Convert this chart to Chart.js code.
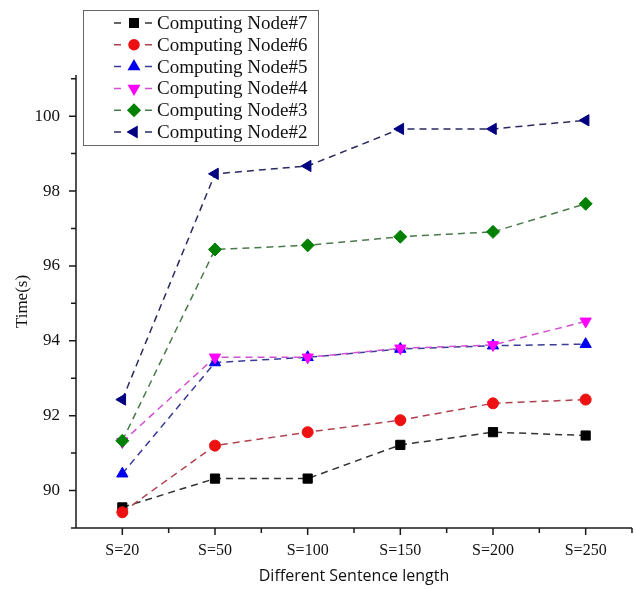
<!DOCTYPE html>
<html>
<head>
<meta charset="utf-8">
<script src="https://cdn.jsdelivr.net/npm/chart.js@4.4.1/dist/chart.umd.min.js"></script>
<style>
html, body { margin: 0; padding: 0; background: #fff; overflow: hidden; }
</style>
</head>
<body>
<canvas id="myChart" width="635" height="589"></canvas>
<script>
// Werte
const categories = ["S=20", "S=50", "S=100", "S=150", "S=200", "S=250"];
const node7 = [89.55, 90.32, 90.32, 91.22, 91.56, 91.47];
const node6 = [89.42, 91.20, 91.56, 91.88, 92.33, 92.43];
const node5 = [90.45, 93.42, 93.56, 93.78, 93.87, 93.91];
const node4 = [91.30, 93.56, 93.56, 93.80, 93.89, 94.52];
const node3 = [91.33, 96.44, 96.55, 96.78, 96.91, 97.66];
const node2 = [92.43, 98.46, 98.67, 99.66, 99.66, 99.89];
const yTicks = [89, 90, 91, 92, 93, 94, 95, 96, 97, 98, 99, 100, 101];
const yTickLabels = [90, 92, 94, 96, 98, 100];

const series = [
    { label: "Computing Node#7", data: node7, style: "rect", rot: 0, color: "#000000", line: "#333333", r: 6.5 },
    { label: "Computing Node#6", data: node6, style: "circle", rot: 0, color: "#ee1111", line: "#b04050", r: 5.5 },
    { label: "Computing Node#5", data: node5, style: "triangle", rot: 0, color: "#0000ee", line: "#3a3a9a", r: 6.5 },
    { label: "Computing Node#4", data: node4, style: "triangle", rot: 180, color: "#ff00ff", line: "#d050d0", r: 6.5 },
    { label: "Computing Node#3", data: node3, style: "rectRot", rot: 0, color: "#008000", line: "#4a7a4a", r: 6.5 },
    { label: "Computing Node#2", data: node2, style: "triangle", rot: -90, color: "#000080", line: "#2a2a60", r: 6.5 }
];

const serif = "'Liberation Serif', 'DejaVu Serif', serif";

// Achsen-Striche selbst zeichnen (Haupt- und Nebenstriche)
const axisTicks = {
    id: "axisTicks",
    afterDraw(chart) {
        const ctx = chart.ctx;
        const xs = chart.scales.x, ys = chart.scales.y;
        const a = chart.chartArea;
        ctx.save();
        ctx.strokeStyle = "#1a1a1a";
        ctx.lineWidth = 1.5;
        ctx.beginPath();
        ctx.moveTo(a.left, a.top);
        ctx.lineTo(a.left, a.bottom);
        ctx.lineTo(a.right, a.bottom);
        ys.ticks.forEach(t => {
            const py = ys.getPixelForValue(t.value);
            const len = yTickLabels.includes(t.value) ? 7 : 5;
            ctx.moveTo(a.left, py);
            ctx.lineTo(a.left - len, py);
        });
        for (let i = 0; i < categories.length; i++) {
            let px = xs.getPixelForValue(i);
            ctx.moveTo(px, a.bottom);
            ctx.lineTo(px, a.bottom + 7);
            px = xs.getPixelForValue(i + 0.5);
            ctx.moveTo(px, a.bottom);
            ctx.lineTo(px, a.bottom + 5);
        }
        ctx.stroke();
        ctx.restore();
    }
};

// Legende im Kasten oben links
const boxLegend = {
    id: "boxLegend",
    afterDraw(chart) {
        const ctx = chart.ctx;
        ctx.save();
        ctx.fillStyle = "#ffffff";
        ctx.fillRect(83, 10, 235, 135);
        ctx.strokeStyle = "#666";
        ctx.lineWidth = 1;
        ctx.strokeRect(83.5, 10.5, 235, 135);
        series.forEach((s, i) => {
            const y = 23 + i * 21.8;
            ctx.strokeStyle = s.line;
            ctx.lineWidth = 1.5;
            ctx.beginPath();
            ctx.moveTo(114, y); ctx.lineTo(121, y);
            ctx.moveTo(145, y); ctx.lineTo(152, y);
            ctx.stroke();
            ctx.fillStyle = s.color;
            ctx.strokeStyle = s.color;
            Chart.helpers.drawPoint(ctx, { pointStyle: s.style, rotation: s.rot, radius: s.r - 0.5, borderWidth: 1 }, 134, y);
            ctx.fillStyle = "#111";
            ctx.font = "19px " + serif;
            ctx.textBaseline = "middle";
            ctx.textAlign = "left";
            ctx.fillText(s.label, 157, y + 1);
        });
        ctx.restore();
    }
};

const data = {
    labels: categories,
    datasets: series.map((s, i) => ({
        label: s.label,
        data: s.data,
        borderColor: s.line,
        borderWidth: 1.5,
        borderDash: [7, 5],
        backgroundColor: s.color,
        pointStyle: s.style,
        pointRotation: s.rot,
        pointRadius: s.r,
        pointBorderColor: s.color,
        pointBackgroundColor: s.color,
        pointBorderWidth: 1,
        tension: 0,
        order: series.length - i
    }))
};

const config = {
    type: "line",
    data: data,
    options: {
        responsive: false,
        animation: false,
        layout: { autoPadding: false, padding: { top: 75, right: 3, left: 0, bottom: 0 } },
        scales: {
            x: {
                offset: true,
                grid: { display: false, drawTicks: false },
                border: { display: false },
                ticks: { color: "#111", font: { family: serif, size: 16 }, padding: 13, maxRotation: 0 },
                title: { display: true, text: "Different Sentence length", color: "#111", font: { family: "'Open Sans', sans-serif", size: 16 }, padding: { top: 0, bottom: 3 } },
                afterFit(scale) { scale.height = 61; }
            },
            y: {
                min: 89,
                max: 101.1,
                grid: { display: false, drawTicks: false },
                border: { display: false },
                afterBuildTicks(scale) { scale.ticks = yTicks.map(v => ({ value: v })); },
                ticks: {
                    color: "#111",
                    font: { family: serif, size: 17 },
                    padding: 16,
                    callback: v => yTickLabels.includes(v) ? String(v) : ""
                },
                title: { display: true, text: "Time(s)", color: "#111", font: { family: serif, size: 17 }, padding: { top: 12, bottom: 0 } },
                afterFit(scale) { scale.width = 76; }
            }
        },
        plugins: {
            legend: { display: false },
            tooltip: { enabled: false }
        },
        hover: { mode: null }
    },
    plugins: [axisTicks, boxLegend]
};

const myChart = new Chart(document.getElementById("myChart"), config);
</script>
</body>
</html>
